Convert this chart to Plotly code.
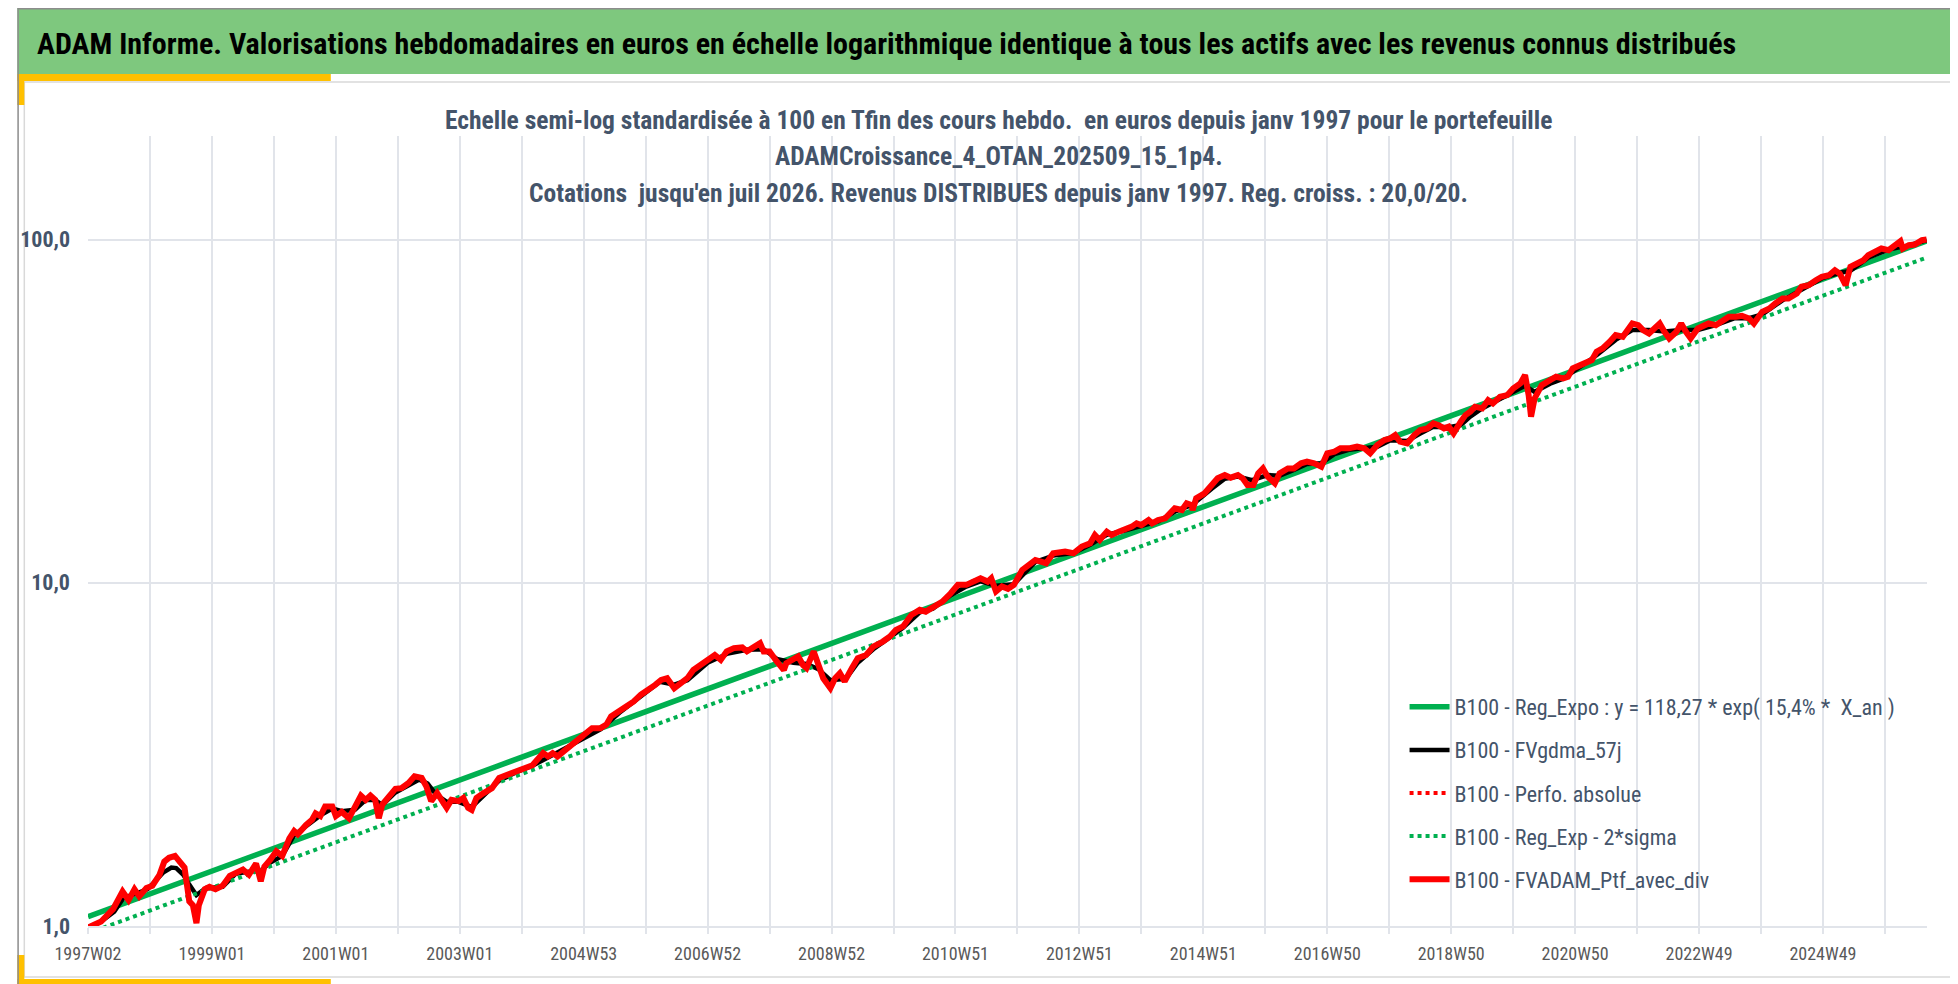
import plotly.graph_objects as go

# ---------------- data ----------------
# x = week index counted from 1997W02 (weekly quotes)
ptf_weeks = [0, 11, 21, 27, 29, 34, 39, 43, 49, 54, 60, 64, 68, 73, 77, 81, 85, 88, 91, 93,
             98, 102, 107, 113, 119, 124, 130, 135, 141, 145, 148, 153, 158, 163, 169, 173, 176, 183, 188, 191,
             195, 199, 205, 208, 213, 219, 224, 229, 233, 237, 241, 244, 247, 252, 258, 263, 269, 274, 280, 284,
             288, 293, 297, 301, 305, 311, 315, 319, 322, 326, 332, 339, 345, 352, 359, 366, 373, 377, 382, 386,
             390, 394, 405, 411, 416, 423, 430, 435, 439, 446, 453, 458, 464, 471, 476, 481, 486, 492, 497, 503,
             508, 514, 519, 526, 531, 536, 542, 549, 553, 558, 564, 567, 572, 578, 584, 586, 592, 596, 600, 603,
             609, 613, 617, 623, 627, 631, 635, 641, 646, 653, 659, 667, 673, 678, 684, 691, 698, 703, 709, 717,
             724, 730, 737, 742, 749, 755, 758, 762, 767, 772, 777, 784, 795, 804, 810, 820, 827, 834, 841, 845,
             849, 855, 859, 865, 870, 876, 880, 884, 890, 893, 898, 904, 912, 918, 922, 926, 927, 930, 937, 943,
             948, 954, 959, 965, 969, 973, 978, 982, 986, 990, 996, 1000, 1007, 1012, 1018, 1023, 1029, 1035, 1040, 1046,
             1051, 1058, 1065, 1071, 1076, 1082, 1088, 1093, 1097, 1101, 1107, 1113, 1118, 1124, 1129, 1133, 1138, 1142, 1146, 1152,
             1156, 1160, 1164, 1170, 1175, 1179, 1185, 1191, 1196, 1202, 1206, 1209, 1211, 1214, 1220, 1227, 1232, 1238, 1242, 1246,
             1252, 1257, 1262, 1266, 1271, 1277, 1282, 1288, 1294, 1296, 1301, 1305, 1310, 1314, 1319, 1323, 1327, 1333, 1337, 1341,
             1345, 1351, 1355, 1360, 1366, 1372, 1377, 1383, 1388, 1394, 1398, 1405, 1411, 1416, 1422, 1427, 1434, 1438, 1444, 1450,
             1455, 1461, 1466, 1470, 1475, 1479, 1484, 1490, 1494, 1500, 1505, 1511, 1516, 1521, 1523, 1528, 1533, 1539, 1543]
ptf_values = [0.99, 1.03, 1.12, 1.23, 1.26, 1.19, 1.28, 1.22, 1.29, 1.31, 1.41, 1.54, 1.58, 1.60, 1.53, 1.48, 1.18, 1.15, 1.02, 1.15,
              1.28, 1.30, 1.28, 1.31, 1.40, 1.43, 1.46, 1.41, 1.52, 1.35, 1.49, 1.56, 1.65, 1.60, 1.80, 1.89, 1.85, 1.97, 2.04, 2.13,
              2.09, 2.23, 2.23, 2.09, 2.15, 2.06, 2.21, 2.40, 2.33, 2.40, 2.33, 2.06, 2.26, 2.36, 2.51, 2.52, 2.61, 2.73, 2.70, 2.55,
              2.31, 2.44, 2.33, 2.21, 2.33, 2.31, 2.36, 2.21, 2.18, 2.36, 2.44, 2.52, 2.70, 2.76, 2.82, 2.88, 2.94, 3.05, 3.19, 3.12,
              3.19, 3.12, 3.34, 3.46, 3.57, 3.77, 3.77, 3.86, 4.08, 4.22, 4.36, 4.51, 4.72, 4.88, 5.04, 5.21, 5.27, 4.93, 5.10, 5.27,
              5.57, 5.76, 5.90, 6.16, 5.96, 6.31, 6.45, 6.48, 6.31, 6.45, 6.67, 6.31, 6.31, 5.90, 5.57, 5.83, 5.96, 6.10, 5.76, 5.64,
              6.31, 5.70, 5.27, 4.93, 5.27, 5.45, 5.16, 5.64, 6.03, 6.16, 6.52, 6.74, 6.97, 7.29, 7.46, 8.06, 8.34, 8.24, 8.47, 8.81,
              9.32, 9.86, 9.86, 10.08, 10.31, 10.08, 10.31, 9.43, 9.75, 9.60, 9.86, 10.90, 11.65, 11.40, 12.19, 12.33, 12.19, 12.75, 13.03, 13.78,
              13.32, 14.09, 13.78, 14.09, 14.25, 14.57, 14.90, 14.73, 15.23, 14.90, 15.23, 15.41, 16.48, 16.29, 17.04, 16.85, 16.29, 17.62, 18.22, 19.27,
              20.15, 20.60, 20.24, 20.60, 20.15, 19.27, 19.27, 20.84, 21.54, 20.38, 19.49, 20.84, 21.54, 21.54, 22.28, 22.53, 22.28, 21.79, 23.82, 24.09,
              24.64, 24.64, 24.92, 24.64, 23.82, 25.19, 26.05, 26.35, 26.94, 25.76, 25.47, 26.94, 27.86, 28.17, 29.13, 28.81, 28.17, 28.50, 27.25, 29.47,
              30.80, 31.51, 32.58, 32.21, 34.06, 33.31, 34.84, 35.21, 36.83, 38.09, 40.27, 35.21, 30.46, 34.44, 37.66, 38.95, 39.84, 39.38, 39.84, 42.12,
              43.06, 43.55, 44.53, 47.11, 48.16, 50.37, 52.65, 52.08, 55.07, 56.95, 56.30, 54.45, 53.25, 55.07, 56.95, 53.86, 51.50, 53.86, 56.95, 53.86,
              51.50, 55.07, 55.69, 56.95, 56.30, 58.22, 59.57, 59.57, 59.95, 58.89, 56.95, 61.59, 62.97, 65.12, 67.34, 67.34, 69.63, 72.83, 73.62, 76.12,
              77.88, 78.72, 81.39, 79.62, 73.62, 83.26, 85.13, 87.05, 90.01, 92.09, 94.15, 93.09, 96.25, 98.88, 94.15, 96.25, 96.70, 99.54, 100.0]

mm_weeks = [0, 11, 22, 30, 40, 50, 63, 70, 74, 80, 85, 91, 95, 99, 113, 124, 135, 145, 153, 163,
            173, 183, 195, 205, 213, 224, 233, 241, 247, 258, 269, 278, 285, 292, 301, 311, 322, 331, 345, 359,
            373, 390, 410, 430, 446, 464, 480, 492, 503, 520, 537, 553, 567, 578, 592, 603, 613, 623, 636, 646,
            659, 672, 684, 698, 709, 724, 737, 749, 762, 777, 795, 810, 827, 841, 855, 870, 884, 898, 912, 927,
            943, 954, 965, 977, 990, 1000, 1012, 1023, 1035, 1046, 1058, 1071, 1082, 1093, 1107, 1118, 1129, 1142, 1152, 1160,
            1170, 1185, 1196, 1206, 1214, 1227, 1238, 1252, 1266, 1282, 1296, 1310, 1323, 1337, 1351, 1366, 1382, 1394, 1405, 1422,
            1438, 1455, 1470, 1479, 1494, 1511, 1527, 1543]
mm_values = [0.99, 1.03, 1.10, 1.21, 1.24, 1.28, 1.43, 1.48, 1.475, 1.41, 1.32, 1.23, 1.26, 1.29, 1.30, 1.42, 1.44, 1.45, 1.53, 1.60,
             1.84, 1.96, 2.10, 2.20, 2.16, 2.18, 2.33, 2.33, 2.25, 2.45, 2.58, 2.67, 2.60, 2.42, 2.30, 2.30, 2.22, 2.38, 2.65, 2.80,
             2.93, 3.15, 3.43, 3.74, 4.18, 4.68, 5.15, 5.05, 5.20, 5.85, 6.22, 6.38, 6.40, 6.00, 5.85, 5.80, 5.60, 5.20, 5.25, 5.85,
             6.40, 6.90, 7.40, 8.20, 8.40, 9.20, 9.75, 10.1, 9.80, 9.90, 11.5, 12.0, 12.2, 12.9, 13.8, 14.2, 14.7, 15.1, 16.1, 16.9,
             18.8, 20.1, 20.4, 19.9, 20.6, 20.5, 21.3, 22.2, 22.3, 23.7, 24.4, 24.6, 24.9, 26.0, 25.9, 27.2, 28.5, 28.4, 28.8, 30.5,
             32.2, 34.3, 36.0, 37.5, 36.0, 38.0, 39.3, 42.5, 46.0, 51.0, 54.5, 54.5, 54.0, 54.5, 54.5, 56.3, 59.0, 59.0, 60.5, 66.5,
             71.5, 77.0, 80.0, 81.0, 88.5, 93.5, 96.0, 99.5]

reg_weeks = [0, 1543]
reg_expo = [1.065, 99.0]
reg_minus_2sigma = [0.952, 88.6]

tick_weeks = [0, 104, 208, 312, 416, 520, 624, 728, 832, 936, 1040, 1144, 1248, 1352, 1456]
tick_labels = ["1997W02", "1999W01", "2001W01", "2003W01", "2004W53", "2006W52", "2008W52", "2010W51",
               "2012W51", "2014W51", "2016W50", "2018W50", "2020W50", "2022W49", "2024W49"]
y_tick_values = [1, 10, 100]
y_tick_labels = ["1,0", "10,0", "100,0"]

series_names = ["B100 - Reg_Expo : y = 118,27 * exp( 15,4% *  X_an )",
                "B100 - FVgdma_57j",
                "B100 - Perfo. absolue",
                "B100 - Reg_Exp - 2*sigma",
                "B100 - FVADAM_Ptf_avec_div"]

header_text = ("ADAM Informe. Valorisations hebdomadaires en euros en échelle logarithmique identique "
               "à tous les actifs avec les revenus connus distribués")
subtitle_lines = ["Echelle semi-log standardisée à 100 en Tfin des cours hebdo.  en euros depuis janv 1997 pour le portefeuille",
                  "ADAMCroissance_4_OTAN_202509_15_1p4.",
                  "Cotations  jusqu'en juil 2026. Revenus DISTRIBUES depuis janv 1997. Reg. croiss. : 20,0/20."]

# ---------------- layout constants ----------------
W, H = 1958, 984
ML, MR, MT, MB = 71, 39, 128, 66
PW, PH = W - ML - MR, H - MT - MB

NARROW = "Liberation Sans Narrow, Arial Narrow, Roboto Condensed, Open Sans, sans-serif"
GREEN = "#00B050"
RED = "#FF0000"
GRID = "#E1E4EA"
SLATE = "#44546A"


def fx(px):
    return (px - ML) / PW


def fy(py):
    return (H - MB - py) / PH


def rect(x0, y0, x1, y1, **kw):
    d = dict(type="rect", xref="paper", yref="paper", x0=fx(x0), x1=fx(x1), y0=fy(y0), y1=fy(y1))
    d.update(kw)
    return d


fig = go.Figure()

fig.add_trace(go.Scatter(x=reg_weeks, y=reg_expo, mode="lines", name=series_names[0],
                         line=dict(color=GREEN, width=5.5), legendgroup="a"))
fig.add_trace(go.Scatter(x=mm_weeks, y=mm_values, mode="lines", name=series_names[1],
                         line=dict(color="#000000", width=4.5), legendgroup="b"))
fig.add_trace(go.Scatter(x=ptf_weeks, y=ptf_values, mode="lines", name=series_names[2],
                         line=dict(color=RED, width=4, dash="dot"), legendgroup="c"))
fig.add_trace(go.Scatter(x=reg_weeks, y=reg_minus_2sigma, mode="lines", name=series_names[3],
                         line=dict(color=GREEN, width=4, dash="dot"), legendgroup="d"))
fig.add_trace(go.Scatter(x=ptf_weeks, y=ptf_values, mode="lines", name=series_names[4],
                         line=dict(color=RED, width=6), legendgroup="e"))

YEL = "#FFC000"
shapes = [
    rect(0, 0, W, 66, fillcolor="#7EC87E", line=dict(width=0), layer="below"),
    rect(7, 74, 1952, 969, line=dict(color="#D9D9D9", width=1.5), layer="below"),
    rect(0, 66, 315, 73, fillcolor=YEL, line=dict(width=0), layer="above"),
    rect(0, 66, 7, 97, fillcolor=YEL, line=dict(width=0), layer="above"),
    rect(0, 971, 315, 978, fillcolor=YEL, line=dict(width=0), layer="above"),
    rect(0, 947, 7, 978, fillcolor=YEL, line=dict(width=0), layer="above"),
    rect(1954, 66, W, 97, fillcolor=YEL, line=dict(width=0), layer="above"),
    rect(1954, 946, W, 978, fillcolor=YEL, line=dict(width=0), layer="above"),
    rect(0.75, 0.75, W - 0.75, H - 0.75, line=dict(color="#8C8C8C", width=1.5), layer="above"),
]

annotations = [
    dict(text=header_text, x=fx(18), y=fy(35), xref="paper", yref="paper", xanchor="left", yanchor="middle",
         showarrow=False, font=dict(family=NARROW, size=30, color="#000000", weight="bold")),
]
for line_text, ypx in zip(subtitle_lines, [112, 148, 185]):
    annotations.append(dict(text=line_text, x=fx(986), y=fy(ypx), xref="paper", yref="paper",
                            xanchor="center", yanchor="middle", showarrow=False,
                            font=dict(family=NARROW, size=25.5, color=SLATE, weight="bold")))

fig.update_layout(
    width=W, height=H,
    margin=dict(l=ML, r=MR, t=MT, b=MB, pad=0),
    paper_bgcolor="#FFFFFF", plot_bgcolor="#FFFFFF",
    font=dict(family=NARROW, color=SLATE),
    shapes=shapes, annotations=annotations,
    showlegend=True,
    legend=dict(x=fx(1394), y=fy(678), xanchor="left", yanchor="top", bgcolor="rgba(0,0,0,0)",
                font=dict(family=NARROW, size=22, color=SLATE), tracegroupgap=11.5, itemwidth=40),
    xaxis=dict(range=[0, 1543.3], tickmode="array", tickvals=tick_weeks, ticktext=tick_labels,
               showgrid=True, gridcolor=GRID, gridwidth=1.5, ticks="outside", ticklen=6, tickcolor=GRID, tickwidth=1.5,
               tickfont=dict(family=NARROW, size=18, color="#595959"), ticklabelstandoff=5,
               minor=dict(tickmode="linear", tick0=0, dtick=52, showgrid=True, gridcolor=GRID, gridwidth=1.5,
                          ticks="outside", ticklen=6, tickcolor=GRID, tickwidth=1.5),
               showline=True, linecolor=GRID, linewidth=1.5, zeroline=False, fixedrange=True),
    yaxis=dict(type="log", range=[0, 2.3016], tickmode="array", tickvals=y_tick_values, ticktext=y_tick_labels,
               showgrid=True, gridcolor=GRID, gridwidth=1.5, ticks="", showline=False, zeroline=False,
               tickfont=dict(family=NARROW, size=22, color=SLATE, weight="bold"), ticklabelstandoff=17),
)

fig.write_html("out.html")
